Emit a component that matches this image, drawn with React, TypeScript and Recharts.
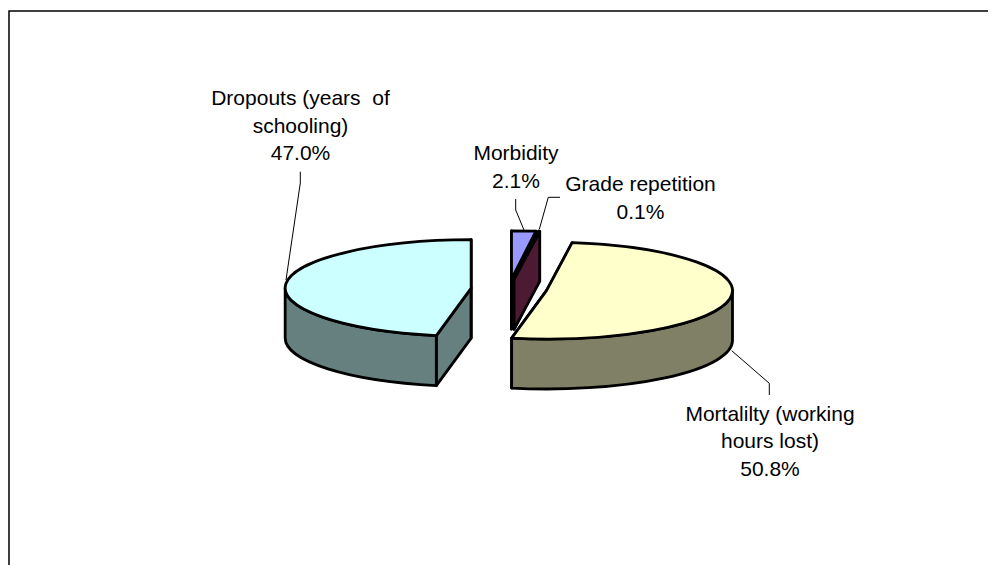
import { PieChart, Pie, Customized } from 'recharts';

const names = ['Morbidity', 'Grade repetition', 'Mortalilty (working hours lost)', 'Dropouts (years  of schooling)'];
const values = [2.1, 0.1, 50.8, 47.0];
const topColors = ['#9999ff', '#660066', '#ffffcc', '#ccffff'];
const sideColors = ['#4d1a33', '#4d1a33', '#808066', '#668080'];
const labelLines = [
  ['Morbidity', '2.1%'],
  ['Grade repetition', '0.1%'],
  ['Mortalilty (working', 'hours lost)', '50.8%'],
  ['Dropouts (years  of', 'schooling)', '47.0%'],
];

const data = names.map((name, i) => ({ name, value: values[i] }));

const WIDTH = 988;
const HEIGHT = 557;
const CX = 501;
const CY = 281;
const RX = 186;
const TILT = 0.26;
const DEPTH = 50;
const EXPLODE = 38;
const RAD = Math.PI / 180;

// label anchors, page offset already removed
const labelPos = [
  { x: 508, y: 152 },
  { x: 632.5, y: 183 },
  { x: 762, y: 412.5 },
  { x: 292.5, y: 97 },
];
const leaders = [
  '507.7,191 507.7,202 516,222',
  '552,189.3 540.3,189.3 531.3,221.3',
  '723.7,342.7 761.3,375.3 761.3,387',
  '292.3,163.7 292.3,175 278,272',
];

const pt = (cx: number, cy: number, a: number) => [cx + RX * Math.cos(a * RAD), cy - RX * TILT * Math.sin(a * RAD)];

const arc = (cx: number, cy: number, from: number, to: number) => {
  const [x, y] = pt(cx, cy, to);
  const large = Math.abs(to - from) > 180 ? 1 : 0;
  const sweep = to < from ? 1 : 0;
  return `A${RX} ${RX * TILT} 0 ${large} ${sweep} ${x} ${y}`;
};

const Slice3D = (props: any) => {
  const { startAngle, endAngle, midAngle, index } = props;
  const mid = midAngle ?? (startAngle + endAngle) / 2;
  const cx = CX + EXPLODE * Math.cos(mid * RAD);
  const cy = CY - EXPLODE * TILT * Math.sin(mid * RAD);
  const stroke = { stroke: '#000', strokeWidth: 2.8, strokeLinejoin: 'round' as const };
  const [sx, sy] = pt(cx, cy, startAngle);
  const [ex, ey] = pt(cx, cy, endAngle);
  const side = sideColors[index];
  const walls: string[] = [];

  // cut faces that can be seen from the front
  walls.push(`M${cx} ${cy}L${sx} ${sy}L${sx} ${sy + DEPTH}L${cx} ${cy + DEPTH}Z`);
  walls.push(`M${cx} ${cy}L${ex} ${ey}L${ex} ${ey + DEPTH}L${cx} ${cy + DEPTH}Z`);

  // outer rim: only the front half of the ellipse (180 to 360 degrees)
  const norm = (a: number) => ((a % 360) + 360) % 360;
  const lo = Math.min(startAngle, endAngle);
  const hi = Math.max(startAngle, endAngle);
  const crossings = [-360, -180, 0, 180, 360];
  const cuts = [lo, ...crossings.filter((c) => c > lo && c < hi), hi];
  for (let i = 0; i < cuts.length - 1; i++) {
    const m = norm((cuts[i] + cuts[i + 1]) / 2);
    if (m > 180) {
      const [ax, ay] = pt(cx, cy, cuts[i]);
      const [bx, by] = pt(cx, cy, cuts[i + 1]);
      walls.push(
        `M${ax} ${ay}${arc(cx, cy, cuts[i], cuts[i + 1])}L${bx} ${by + DEPTH}A${RX} ${RX * TILT} 0 0 1 ${ax} ${ay + DEPTH}Z`,
      );
    }
  }

  return (
    <g>
      {walls.map((d, i) => (
        <path key={i} d={d} fill={side} {...stroke} />
      ))}
      <path d={`M${cx} ${cy}L${sx} ${sy}${arc(cx, cy, startAngle, endAngle)}Z`} fill={topColors[index]} {...stroke} />
    </g>
  );
};

const Labels = () => (
  <g>
    {leaders.map((p, i) => (
      <polyline key={i} points={p} fill="none" stroke="#000" strokeWidth={1} />
    ))}
    {labelPos.map((pos, i) => (
      <text key={i} x={pos.x} y={pos.y} textAnchor="middle" fontFamily="Liberation Sans, Arial, sans-serif" fontSize={21} fill="#000">
        {labelLines[i].map((line, j) => (
          <tspan key={j} x={pos.x} y={pos.y + j * 27.5} style={{ whiteSpace: 'pre' }}>
            {line}
          </tspan>
        ))}
      </text>
    ))}
  </g>
);

export default function App() {
  return (
    <div style={{ width: WIDTH, height: HEIGHT, position: 'relative', overflow: 'hidden' }}>
      <PieChart width={WIDTH} height={HEIGHT} margin={{ top: 0, right: 0, bottom: 0, left: 0 }}>
        <Customized
          component={() => <path d={`M1 ${HEIGHT}V3H${WIDTH}`} fill="none" stroke="#000" strokeWidth={1.5} />}
        />
        <Pie
          data={data}
          dataKey="value"
          nameKey="name"
          cx={CX}
          cy={CY}
          outerRadius={RX}
          startAngle={90}
          endAngle={-270}
          stroke="none"
          isAnimationActive={false}
          shape={Slice3D}
        />
        <Customized component={Labels} />
      </PieChart>
    </div>
  );
}
